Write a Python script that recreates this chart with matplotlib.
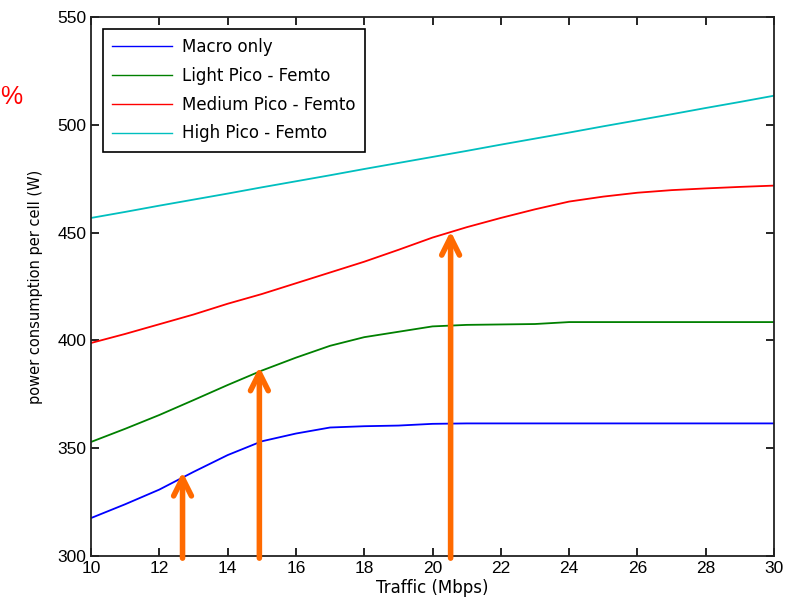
import matplotlib.pyplot as plt

plt.rcParams["font.family"] = ["Liberation Sans", "DejaVu Sans"]

# traffic in Mbps
traffic = [10, 11, 12, 13, 14, 15, 16, 17, 18, 19, 20,
           21, 22, 23, 24, 25, 26, 27, 28, 29, 30]

# power consumption per cell (W)
macro_only = [317.6, 324.0, 330.8, 339.0, 346.8, 353.2, 356.8, 359.6, 360.2, 360.5, 361.3,
              361.5, 361.5, 361.5, 361.5, 361.5, 361.5, 361.5, 361.5, 361.5, 361.5]
light_pf = [352.9, 359.0, 365.4, 372.3, 379.3, 386.0, 392.0, 397.5, 401.5, 404.0, 406.5,
            407.2, 407.4, 407.6, 408.5, 408.5, 408.5, 408.5, 408.5, 408.5, 408.5]
medium_pf = [398.8, 403.0, 407.5, 412.0, 417.0, 421.5, 426.5, 431.5, 436.5, 442.0, 447.7,
             452.5, 456.8, 460.8, 464.4, 466.7, 468.5, 469.7, 470.5, 471.2, 471.8]
high_pf = [456.8, 459.6, 462.5, 465.3, 468.1, 471.0, 473.8, 476.6, 479.5, 482.3, 485.1,
           487.9, 490.8, 493.6, 496.4, 499.3, 502.1, 504.9, 507.8, 510.6, 513.5]

labels = ["Macro only", "Light Pico - Femto", "Medium Pico - Femto", "High Pico - Femto"]
colors = ["#0000ff", "#008000", "#ff0000", "#00bfbf"]

# orange arrows pointing at curves
arrow_x = [12.68, 14.93, 20.53]
arrow_tip = [339.0, 387.8, 450.7]

fig = plt.figure(figsize=(8.04, 6.12), dpi=100)
ax = fig.add_axes([0.1132, 0.0915, 0.8495, 0.8807])

for series, label, color in zip([macro_only, light_pf, medium_pf, high_pf], labels, colors):
    ax.plot(traffic, series, color=color, linewidth=1.3, label=label)

for x, tip in zip(arrow_x, arrow_tip):
    ax.annotate("", xy=(x, tip), xytext=(x, 299.0),
                arrowprops=dict(arrowstyle="->", color="#ff6a00", lw=4,
                                mutation_scale=32, shrinkA=0, shrinkB=0),
                annotation_clip=False)

ax.set_xlim(10, 30)
ax.set_ylim(300, 550)
ax.set_xticks(range(10, 31, 2))
ax.set_yticks(range(300, 551, 50))
ax.tick_params(direction="in", top=True, right=True, labelsize=12.5, length=6, width=1.2)
for spine in ax.spines.values():
    spine.set_linewidth(1.3)
    spine.set_color("#222222")

ax.set_xlabel("Traffic (Mbps)", fontsize=12, family="DejaVu Sans", labelpad=2)
ax.set_ylabel("power consumption per cell (W)", fontsize=10.5, family="DejaVu Sans",
              labelpad=10)

leg = ax.legend(loc="upper left", prop={"family": "DejaVu Sans", "size": 12},
                fancybox=False, edgecolor="black", framealpha=1, handlelength=3.6,
                borderpad=0.55, labelspacing=0.65, borderaxespad=0.7, handletextpad=0.6)
leg.get_frame().set_linewidth(1.2)
for line in leg.get_lines():
    line.set_linewidth(1.0)

fig.text(0.0, 0.83, "%", color="red", fontsize=18)

fig.savefig("out.png", dpi=100)
